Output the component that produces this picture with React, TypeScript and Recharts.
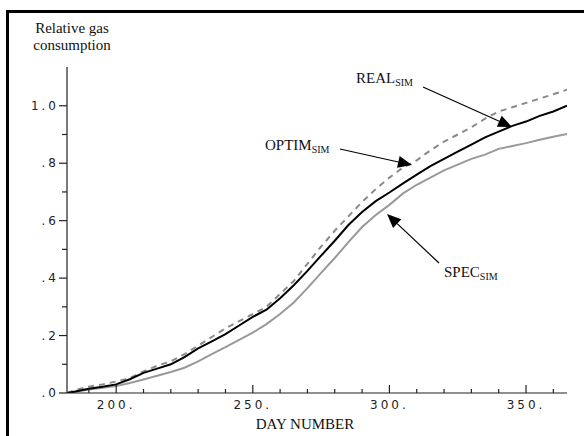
import { LineChart, Line, XAxis, YAxis } from 'recharts';

// day of year and relative gas consumption
const days = [182, 185, 190, 195, 200, 205, 210, 215, 220, 225, 230, 235, 240, 245, 250, 255, 260, 265, 270, 275, 280, 285, 290, 295, 300, 305, 310, 315, 320, 325, 330, 335, 340, 345, 350, 355, 360, 365];
const realSim = [0.0, 0.005, 0.015, 0.022, 0.03, 0.048, 0.07, 0.085, 0.1, 0.125, 0.155, 0.18, 0.205, 0.235, 0.265, 0.29, 0.33, 0.375, 0.425, 0.478, 0.53, 0.585, 0.63, 0.668, 0.698, 0.73, 0.76, 0.79, 0.815, 0.84, 0.865, 0.89, 0.91, 0.93, 0.945, 0.965, 0.98, 1.0];
const optimSim = [0.0, 0.01, 0.022, 0.03, 0.04, 0.052, 0.075, 0.095, 0.11, 0.135, 0.165, 0.195, 0.225, 0.25, 0.275, 0.3, 0.345, 0.39, 0.45, 0.51, 0.565, 0.615, 0.665, 0.71, 0.75, 0.785, 0.81, 0.845, 0.875, 0.9, 0.925, 0.955, 0.98, 0.995, 1.01, 1.025, 1.04, 1.056];
const specSim = [0.0, 0.004, 0.012, 0.018, 0.024, 0.035, 0.047, 0.06, 0.073, 0.088, 0.11, 0.135, 0.16, 0.185, 0.21, 0.24, 0.275, 0.315, 0.365, 0.418, 0.47, 0.525, 0.578, 0.62, 0.655, 0.695, 0.725, 0.75, 0.775, 0.795, 0.815, 0.83, 0.85, 0.86, 0.87, 0.882, 0.892, 0.902];

const xTicks = [190, 200, 210, 220, 230, 240, 250, 260, 270, 280, 290, 300, 310, 320, 330, 340, 350, 360];
const yTicks = [0, 0.1, 0.2, 0.3, 0.4, 0.5, 0.6, 0.7, 0.8, 0.9, 1.0];

const data = days.map((d, i) => ({ day: d, real: realSim[i], optim: optimSim[i], spec: specSim[i] }));

const tickFont = { fontFamily: 'DejaVu Sans', fontSize: 12, letterSpacing: 3, fill: '#222' };
const serif = 'Liberation Serif';

const XTick = (props: any) => {
  const { x, y, payload } = props;
  const major = payload.value % 50 === 0;
  return (
    <g>
      <line x1={x} y1={y} x2={x} y2={y - (major ? 8 : 4)} stroke="#222" strokeWidth={1.2} />
      {major && (
        <text x={x} y={y + 16} textAnchor="middle" {...tickFont}>{`${payload.value}.`}</text>
      )}
    </g>
  );
};

const YTick = (props: any) => {
  const { x, y, payload } = props;
  const tenths = Math.round(payload.value * 10);
  const major = tenths % 2 === 0;
  const label = tenths === 10 ? '1.0' : `.${tenths}`;
  return (
    <g>
      <line x1={x - (major ? 8 : 5)} y1={y} x2={x} y2={y} stroke="#222" strokeWidth={1.2} />
      {major && (
        <text x={x - 8} y={y + 4} textAnchor="end" {...tickFont}>{label}</text>
      )}
    </g>
  );
};

const Arrow = ({ x1, y1, x2, y2 }: { x1: number; y1: number; x2: number; y2: number }) => {
  const a = Math.atan2(y2 - y1, x2 - x1);
  const len = 14, half = 6;
  const bx = x2 - len * Math.cos(a), by = y2 - len * Math.sin(a);
  const px = -Math.sin(a) * half, py = Math.cos(a) * half;
  return (
    <g>
      <line x1={x1} y1={y1} x2={bx} y2={by} stroke="#000" strokeWidth={1.2} />
      <polygon points={`${x2},${y2} ${bx + px},${by + py} ${bx - px},${by - py}`} fill="#000" />
    </g>
  );
};

export default function App() {
  return (
    <div style={{ position: 'absolute', left: 0, top: 0, width: 584, height: 436, overflow: 'hidden', background: '#fff' }}>
      <div style={{ position: 'absolute', left: 6, top: 10, width: 640, height: 520, borderLeft: '3px solid #000', borderTop: '3px solid #000' }} />
      <LineChart width={584} height={436} data={data} margin={{ top: 67, right: 17, bottom: 13, left: 7 }}>
        <XAxis type="number" dataKey="day" domain={[182, 365]} ticks={xTicks} interval={0} tick={<XTick />} tickLine={false} tickSize={0} tickMargin={0} axisLine={{ stroke: '#222', strokeWidth: 1.2 }} height={30} allowDataOverflow />
        <YAxis type="number" domain={[0, 1.135]} ticks={yTicks} interval={0} tick={<YTick />} tickLine={false} tickSize={0} tickMargin={0} axisLine={{ stroke: '#222', strokeWidth: 1.2 }} width={60} allowDataOverflow />
        <Line type="linear" dataKey="optim" stroke="#8a8a8a" strokeWidth={2} strokeDasharray="6 5" dot={false} isAnimationActive={false} />
        <Line type="linear" dataKey="spec" stroke="#999" strokeWidth={2} dot={false} isAnimationActive={false} />
        <Line type="linear" dataKey="real" stroke="#000" strokeWidth={2} dot={false} isAnimationActive={false} />
      </LineChart>
      <svg width={584} height={436} style={{ position: 'absolute', left: 0, top: 0, pointerEvents: 'none' }}>
        <text x={72} y={33} textAnchor="middle" fontFamily={serif} fontSize={15} fill="#111">Relative gas</text>
        <text x={72} y={50} textAnchor="middle" fontFamily={serif} fontSize={15} fill="#111">consumption</text>
        <text x={305} y={429} textAnchor="middle" fontFamily={serif} fontSize={15} fill="#111">DAY NUMBER</text>

        <text x={356} y={83} fontFamily={serif} fontSize={15} fill="#111">REAL<tspan fontSize={10} dy={3}>SIM</tspan></text>
        <Arrow x1={423} y1={87} x2={512} y2={127} />

        <text x={265} y={150} fontFamily={serif} fontSize={15} fill="#111">OPTIM<tspan fontSize={10} dy={3}>SIM</tspan></text>
        <Arrow x1={340} y1={149} x2={412} y2={165} />

        <text x={444} y={277} fontFamily={serif} fontSize={15} fill="#111">SPEC<tspan fontSize={10} dy={3}>SIM</tspan></text>
        <Arrow x1={439} y1={263} x2={387} y2={214} />
      </svg>
    </div>
  );
}
